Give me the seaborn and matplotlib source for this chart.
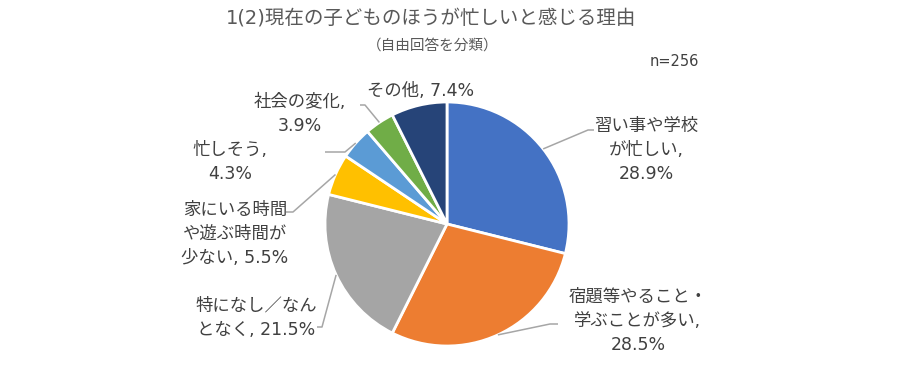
import matplotlib
matplotlib.use("Agg")
import matplotlib.pyplot as plt
import numpy as np
import seaborn as sns

# data
labels = [
    "習い事や学校\nが忙しい,\n28.9%",
    "宿題等やること・\n学ぶことが多い,\n28.5%",
    "特になし／なん\nとなく, 21.5%",
    "家にいる時間\nや遊ぶ時間が\n少ない, 5.5%",
    "忙しそう,\n4.3%",
    "社会の変化,\n3.9%",
    "その他, 7.4%",
]
values = [28.9, 28.5, 21.5, 5.5, 4.3, 3.9, 7.4]
colors = ["#4472C4", "#ED7D31", "#A5A5A5", "#FFC000", "#5B9BD5", "#70AD47", "#264478"]
title = "1(2)現在の子どものほうが忙しいと感じる理由"
subtitle = "（自由回答を分類）"
n_text = "n=256"

sns.set_theme(style="white")
# latin glyphs from DejaVu (wide, Meiryo-like), CJK from Noto
plt.rcParams["font.family"] = ["DejaVu Sans", "Noto Sans CJK JP"]

TXT = "#404040"
cx, cy, r = 447, 224, 122

fig = plt.figure(figsize=(9, 3.77), dpi=100)
ax = fig.add_axes([0, 0, 1, 1])
wedges, _ = ax.pie(
    values,
    colors=sns.color_palette(colors),
    startangle=-90,
    counterclock=True,
    center=(cx, cy),
    radius=r,
    wedgeprops=dict(edgecolor="white", linewidth=2),
)
# pixel-like coordinates, y downwards
ax.set_xlim(0, 900)
ax.set_ylim(377, 0)
ax.set_aspect("equal")
ax.axis("off")

# label layout: text position, leader elbow (None = no leader)
layout = [
    dict(xy=(646, 150), elbow=[(588, 130), (594, 130)]),
    dict(xy=(638, 321), elbow=[(550, 324), (558, 324)]),
    dict(xy=(256, 318), elbow=[(322, 327), (317, 327)]),
    dict(xy=(235, 234), elbow=[(293, 212), (286, 212)]),
    dict(xy=(230, 162), elbow=[(345, 152), (325, 152)]),
    dict(xy=(300, 114), elbow=[(365, 105), (360, 105)]),
    dict(xy=(421, 91), elbow=None),
]

for w, lab, lay in zip(wedges, labels, layout):
    ang = np.deg2rad((w.theta1 + w.theta2) / 2)
    ax_pt = (cx + r * np.cos(ang), cy + r * np.sin(ang))
    if lay["elbow"]:
        pts = [ax_pt] + lay["elbow"]
        xs, ys = zip(*pts)
        ax.plot(xs, ys, color="#A6A6A6", lw=1.1, solid_capstyle="butt")
    ax.text(lay["xy"][0], lay["xy"][1], lab, ha="center", va="center",
            fontsize=12.5, color=TXT, linespacing=1.45)

ax.text(431, 18, title, ha="center", va="center", fontsize=14, color="#595959")
ax.text(433, 45, subtitle, ha="center", va="center", fontsize=10.5, color="#595959")
ax.text(674, 61, n_text, ha="center", va="center", fontsize=10.5, color=TXT)

fig.savefig("out.png", dpi=100, facecolor="white")
